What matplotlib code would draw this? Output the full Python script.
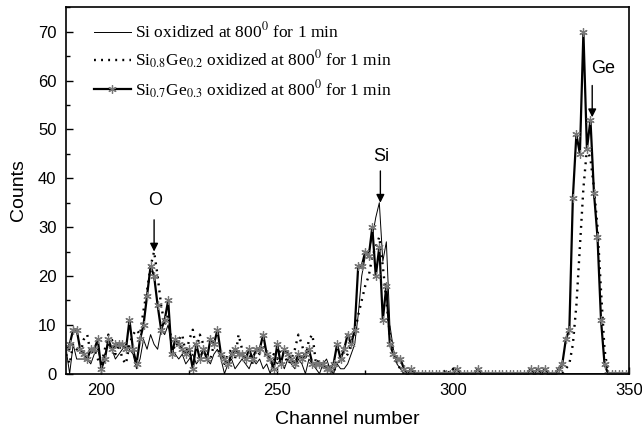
import numpy as np
import matplotlib
matplotlib.use("Agg")
import matplotlib.pyplot as plt
from matplotlib.ticker import MultipleLocator

plt.rcParams['mathtext.fontset'] = 'stix'

channels = np.arange(190, 351)

si_counts = [
    5, 0, 6, 3, 3, 3, 3, 2, 4, 5,
    2, 4, 6, 5, 3, 4, 5, 6, 5, 4,
    1, 3, 7, 5, 8, 6, 5, 9, 8, 10,
    5, 4, 3, 4, 2, 3, 4, 2, 3, 5,
    3, 2, 4, 5, 3, 0, 2, 3, 1, 2,
    3, 2, 1, 3, 2, 3, 1, 2, 0, 3,
    2, 3, 1, 3, 2, 1, 3, 2, 0, 3,
    2, 1, 0, 2, 3, 1, 0, 2, 1, 1,
    2, 4, 6, 12, 20, 24, 25, 28, 32, 35,
    23, 27, 10, 5, 2, 1, 0, 0, 0, 0,
] + [0] * 61

sige02_counts = [
    4, 2, 6, 5, 4, 7, 8, 4, 5, 3,
    2, 5, 8, 7, 4, 6, 3, 2, 6, 8,
    9, 8, 13, 17, 22, 25, 20, 14, 10, 12,
    6, 5, 7, 8, 4, 7, 9, 5, 8, 6,
    4, 3, 6, 5, 4, 2, 4, 5, 3, 8,
    5, 3, 4, 2, 5, 4, 6, 3, 2, 4,
    3, 5, 4, 2, 3, 5, 8, 6, 3, 7,
    8, 2, 3, 1, 2, 1, 0, 3, 2, 3,
    4, 6, 8, 12, 15, 18, 20, 24, 26, 28,
    22, 15, 8, 4, 2, 1, 0, 0, 0, 0,
    0, 0, 0, 0, 0, 0, 0, 0, 1, 0,
    1, 0, 0, 0, 0, 0, 0, 0, 0, 0,
    0, 0, 0, 0, 0, 0, 0, 0, 0, 0,
    0, 0, 0, 0, 0, 0, 0, 0, 0, 0,
    0, 0, 1, 2, 6, 14, 26, 38, 46, 44,
    38, 30, 17, 5, 0, 0, 0, 0, 0, 0,
    0,
]

sige03_counts = [
    5, 6, 9, 9, 5, 4, 3, 5, 5, 7,
    1, 3, 7, 5, 6, 6, 6, 5, 11, 5,
    2, 7, 10, 16, 22, 20, 14, 9, 11, 15,
    4, 7, 6, 5, 4, 5, 1, 6, 3, 5,
    3, 7, 6, 9, 4, 3, 2, 4, 5, 4,
    4, 3, 5, 3, 5, 5, 8, 4, 3, 1,
    6, 2, 5, 4, 3, 2, 4, 3, 4, 5,
    2, 2, 2, 2, 1, 1, 2, 6, 3, 5,
    8, 6, 9, 22, 22, 25, 24, 30, 20, 26,
    11, 18, 6, 4, 3, 3, 1, 0, 1, 0,
    0, 0, 0, 0, 0, 0, 0, 0, 0, 0,
    0, 1, 0, 0, 0, 0, 0, 1, 0, 0,
    0, 0, 0, 0, 0, 0, 0, 0, 0, 0,
    0, 0, 1, 0, 1, 0, 1, 0, 0, 0,
    1, 2, 7, 9, 36, 49, 45, 70, 46, 52,
    37, 28, 11, 2, 0, 0, 0, 0, 0, 0,
    0,
]

labels = [
    r"Si oxidized at 800$^{0}$ for 1 min",
    r"Si$_{0.8}$Ge$_{0.2}$ oxidized at 800$^{0}$ for 1 min",
    r"Si$_{0.7}$Ge$_{0.3}$ oxidized at 800$^{0}$ for 1 min",
]

peaks = [("O", 215, 25), ("Si", 279.3, 35), ("Ge", 339.5, 52.5)]

fig = plt.figure(figsize=(6.42, 4.32), dpi=100)
ax = fig.add_axes([0.103, 0.135, 0.877, 0.848])

ax.plot(channels, si_counts, color='black', lw=0.7, label=labels[0])
ax.plot(channels, sige02_counts, color='black', lw=1.7,
        linestyle=(0, (0.8, 2.2)), label=labels[1])
ax.plot(channels, sige03_counts, color='black', lw=1.6,
        marker=(6, 2, 0), markersize=6, markeredgecolor='#777777',
        markeredgewidth=0.9, label=labels[2])

ax.set_xlim(190, 350)
ax.set_ylim(0, 75)
ax.xaxis.set_major_locator(MultipleLocator(50))
ax.xaxis.set_minor_locator(MultipleLocator(25))
ax.yaxis.set_major_locator(MultipleLocator(10))
ax.yaxis.set_minor_locator(MultipleLocator(5))
ax.tick_params(which='both', direction='in', top=False, right=False,
               labelsize=12, width=1.0)
ax.tick_params(which='major', length=5, pad=7)
ax.tick_params(which='minor', length=3)
for lab in ax.get_xticklabels() + ax.get_yticklabels():
    lab.set_family('Liberation Sans')
for s in ax.spines.values():
    s.set_linewidth(1.2)

ax.set_xlabel("Channel number", fontsize=14, family='Liberation Sans', labelpad=9)
ax.set_ylabel("Counts", fontsize=14, family='Liberation Sans', labelpad=8)

for name, x, y in peaks:
    ax.annotate("", xy=(x, y), xytext=(x, y + 6.5),
                arrowprops=dict(arrowstyle='-|>', color='black', lw=1.0,
                                mutation_scale=12, shrinkA=0, shrinkB=0))

ax.text(215.2, 35.5, "O", fontsize=13, family='Liberation Sans', ha='center', va='center')
ax.text(279.5, 44.5, "Si", fontsize=13, family='Liberation Sans', ha='center', va='center')
ax.text(342.6, 62.5, "Ge", fontsize=13, family='Liberation Sans', ha='center', va='center')

leg = ax.legend(loc='upper left', frameon=False, handlelength=2.1,
                handletextpad=0.25, labelspacing=0.4,
                bbox_to_anchor=(0.022, 1.003),
                prop={'family': 'Liberation Serif', 'size': 12.5})

fig.savefig("out.png", dpi=100)
